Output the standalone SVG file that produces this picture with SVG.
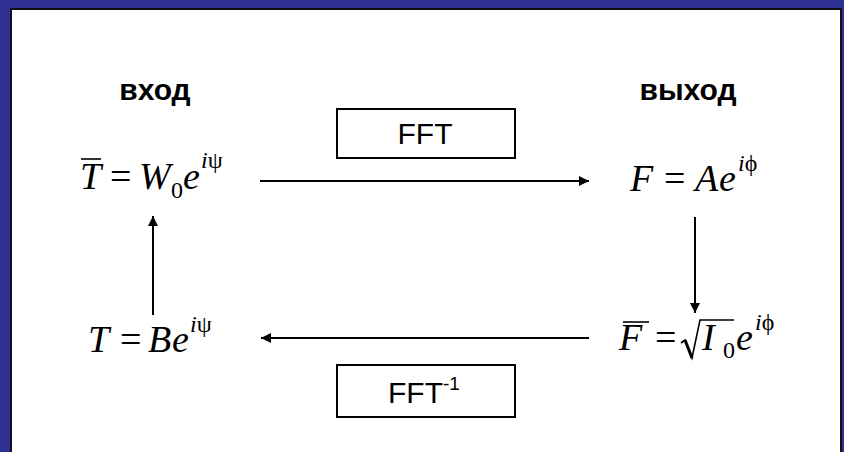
<svg xmlns="http://www.w3.org/2000/svg" width="844" height="452" viewBox="0 0 844 452">
  <style>
    .m { font-family: "Liberation Serif", "Times New Roman", serif; font-size: 38px; font-style: italic; fill: #000; }
    .r { font-family: "Liberation Serif", "Times New Roman", serif; font-size: 38px; fill: #000; }
    .sup { font-family: "Liberation Serif", "Times New Roman", serif; font-size: 24px; font-style: italic; fill: #000; }
    .gk { font-style: normal; }
    .sub { font-family: "Liberation Serif", "Times New Roman", serif; font-size: 24px; fill: #000; }
    .lbl { font-family: "Liberation Sans", Arial, sans-serif; font-size: 30px; font-weight: bold; fill: #000; }
    .op { font-family: "Liberation Sans", Arial, sans-serif; font-size: 30px; fill: #000; }
    .box { fill: #fff; stroke: #000; stroke-width: 2; }
    .bar { stroke: #000; stroke-width: 1.6; fill: none; }
    .edge { stroke: #000; stroke-width: 2; fill: none; marker-end: url(#arrow); }
  </style>
  <defs>
    <marker id="arrow" viewBox="0 0 10 10" refX="10" refY="5" markerWidth="6" markerHeight="5" markerUnits="strokeWidth" orient="auto">
      <path d="M0,0 L10,5 L0,10 Z" fill="#000"/>
    </marker>
  </defs>

  <!-- slide frame -->
  <rect x="0" y="0" width="844" height="452" fill="#2e3191"/>
  <rect x="10" y="8" width="832" height="444" fill="#111"/>
  <rect x="12" y="10" width="828" height="442" fill="#fff"/>

  <!-- column headings -->
  <g id="label-in">
    <text class="lbl" x="155" y="100" text-anchor="middle">вход</text>
  </g>
  <g id="label-out">
    <text class="lbl" x="688" y="100" text-anchor="middle">выход</text>
  </g>

  <!-- transform boxes -->
  <g id="fft">
    <rect class="box" x="337" y="109" width="178" height="49"/>
    <text class="op" x="425" y="144" text-anchor="middle">FFT</text>
  </g>
  <g id="ifft">
    <rect class="box" x="337" y="365" width="178" height="52"/>
    <text class="op" x="388" y="403">FFT<tspan font-size="19" dy="-13">-1</tspan></text>
  </g>

  <!-- input plane: T-bar = W0 e^{i psi} -->
  <g id="t-bar">
    <line class="bar" x1="81" y1="159" x2="101" y2="159"/>
    <text class="m" x="80" y="189">T</text>
    <text class="r" x="110" y="189">=</text>
    <text class="m" x="139" y="189">W</text>
    <text class="sub" x="171" y="198">0</text>
    <text class="m" x="183" y="189">e</text>
    <text class="sup" x="201" y="168">i<tspan class="gk">ψ</tspan></text>
  </g>

  <!-- output plane: F = A e^{i phi} -->
  <g id="f">
    <text class="m" x="630" y="191">F</text>
    <text class="r" x="664" y="191">=</text>
    <text class="m" x="695" y="191">A</text>
    <text class="m" x="719" y="191">e</text>
    <text class="sup" x="738" y="171">i<tspan class="gk">ϕ</tspan></text>
  </g>

  <!-- F-bar = sqrt(I0) e^{i phi} -->
  <g id="f-bar">
    <line class="bar" x1="623" y1="322" x2="649" y2="322"/>
    <text class="m" x="619" y="350">F</text>
    <text class="r" x="655" y="350">=</text>
    <path d="M681,343 L685,340 L692,358 L700,320 L734,320" fill="none" stroke="#000" stroke-width="1.6"/>
    <path d="M685,340 L692,358" fill="none" stroke="#000" stroke-width="3"/>
    <text class="m" x="702" y="350">I</text>
    <text class="sub" x="723" y="358">0</text>
    <text class="m" x="736" y="350">e</text>
    <text class="sup" x="755" y="330">i<tspan class="gk">ϕ</tspan></text>
  </g>

  <!-- T = B e^{i psi} -->
  <g id="t">
    <text class="m" x="88" y="352">T</text>
    <text class="r" x="120" y="352">=</text>
    <text class="m" x="148" y="352">B</text>
    <text class="m" x="172" y="352">e</text>
    <text class="sup" x="190" y="332">i<tspan class="gk">ψ</tspan></text>
  </g>

  <!-- connectors -->
  <g id="connectors">
    <line class="edge" x1="260" y1="181" x2="589" y2="181"/>
    <line class="edge" x1="695" y1="217" x2="695" y2="313"/>
    <line class="edge" x1="589" y1="338" x2="261" y2="338"/>
    <line class="edge" x1="153" y1="315" x2="153" y2="216"/>
  </g>
</svg>
